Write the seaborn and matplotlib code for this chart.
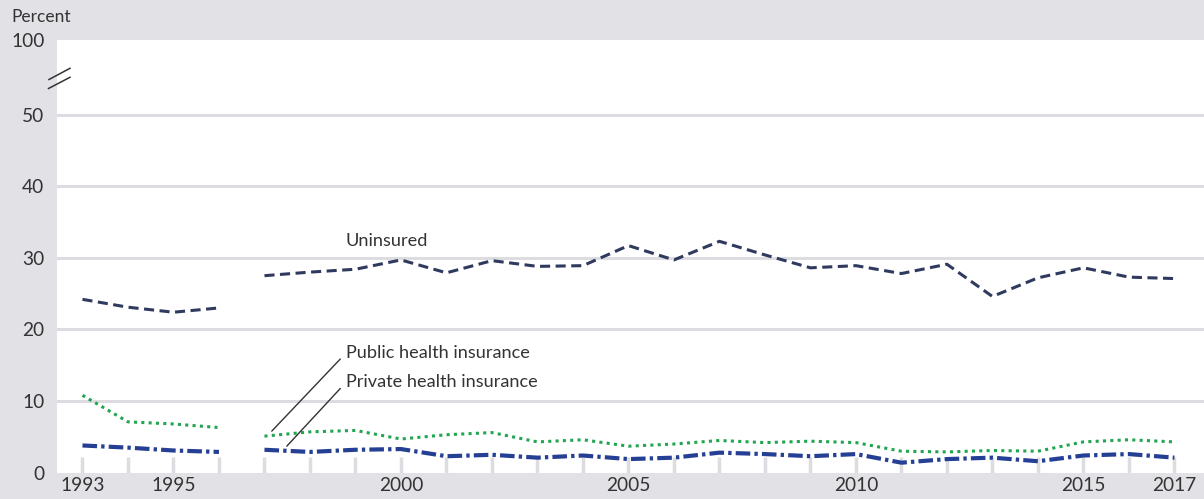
import pandas as pd
import matplotlib.pyplot as plt
import seaborn as sns
from matplotlib.lines import Line2D

# Years on the axis (break in the series between 1996 and 1997)
years = [1993, 1994, 1995, 1996, 1997, 1998, 1999, 2000, 2001, 2002, 2003, 2004,
         2005, 2006, 2007, 2008, 2009, 2010, 2011, 2012, 2013, 2014, 2015, 2016, 2017]
period = ['a', 'a', 'a', 'a'] + ['b'] * 21
labeled_years = [1993, 1995, 2000, 2005, 2010, 2015, 2017]

uninsured = [24.2, 23.1, 22.4, 23.0, 27.5, 28.0, 28.4, 29.7, 27.9, 29.6, 28.8, 28.9,
             31.7, 29.7, 32.3, 30.4, 28.6, 28.9, 27.8, 29.1, 24.6, 27.2, 28.6, 27.3, 27.1]
public = [10.8, 7.1, 6.8, 6.3, 5.1, 5.7, 5.9, 4.7, 5.3, 5.6, 4.3, 4.6,
          3.7, 4.0, 4.5, 4.2, 4.4, 4.2, 3.0, 2.9, 3.1, 3.0, 4.3, 4.6, 4.3]
private = [3.8, 3.5, 3.1, 2.9, 3.2, 2.9, 3.2, 3.3, 2.3, 2.5, 2.1, 2.4,
           1.9, 2.1, 2.8, 2.6, 2.3, 2.6, 1.4, 1.9, 2.1, 1.6, 2.4, 2.6, 2.1]

y_ticks = [0, 10, 20, 30, 40, 50]
y_top = 60.4  # top of the broken axis, labelled 100

BG = '#e1e1e6'
GRID = '#dcdce1'
TEXT = '#333333'


def main():
    df = pd.DataFrame({'year': years, 'period': period, 'Uninsured': uninsured,
                       'Public': public, 'Private': private})

    plt.rcParams['font.family'] = ['Lato', 'DejaVu Sans']
    fig = plt.figure(figsize=(12.04, 4.99), dpi=100, facecolor=BG)
    ax = fig.add_axes([57 / 1204, 26.3 / 499, 1 - 57 / 1204, (472.7 - 40) / 499])
    ax.set_facecolor('white')

    # year tick marks inside the plot, behind the lines
    ax.vlines(years, 0, 2.25, color=GRID, linewidth=2.5, zorder=0)

    # series
    sns.lineplot(data=df, x='year', y='Uninsured', units='period', estimator=None, ax=ax,
                 color='#2f3a5e', linewidth=2.2, linestyle=(0, (3.3, 1.8)))
    sns.lineplot(data=df, x='year', y='Public', units='period', estimator=None, ax=ax,
                 color='#20a550', linewidth=2.2, linestyle=(0, (1, 1.4)))
    sns.lineplot(data=df, x='year', y='Private', units='period', estimator=None, ax=ax,
                 color='#253f94', linewidth=3, linestyle=(0, (3.5, 1, 0.8, 1)))

    ax.set_xlim(1992.44, 2017.65)
    ax.set_ylim(0, y_top)
    for s in ax.spines.values():
        s.set_visible(False)

    # y axis: gridlines at 10..50, label 100 at the top of the break
    ax.set_yticks(y_ticks + [y_top])
    ax.set_yticklabels([str(v) for v in y_ticks] + ['100'])
    for v in y_ticks[1:]:
        ax.axhline(v, color=GRID, linewidth=2.2, zorder=0)
    ax.tick_params(axis='y', length=0, pad=9, labelsize=13.8, labelcolor=TEXT)

    # x axis: labels only on some years
    ax.set_xticks(labeled_years)
    ax.set_xticklabels([str(y) for y in labeled_years])
    ax.tick_params(axis='x', length=0, pad=3, labelsize=13.8, labelcolor=TEXT)
    ax.set_xlabel('')
    ax.set_ylabel('')

    # labels
    ax.text(1998.79, 32.4, 'Uninsured', ha='left', va='center', fontsize=13.1, color=TEXT)
    arrow = dict(arrowstyle='-', color=TEXT, lw=1, shrinkA=3, shrinkB=0, relpos=(0, 0.5))
    ax.annotate('Public health insurance', xy=(1997.16, 5.8), xytext=(1998.79, 16.7),
                ha='left', va='center', fontsize=13.1, color=TEXT, arrowprops=arrow)
    ax.annotate('Private health insurance', xy=(1997.49, 3.7), xytext=(1998.79, 12.6),
                ha='left', va='center', fontsize=13.1, color=TEXT, arrowprops=arrow)

    fig.text(11 / 1204, 1 - 17 / 499, 'Percent', ha='left', va='center',
             fontsize=12.5, color=TEXT)

    # axis break marks
    for (x0, y0, x1, y1) in [(49, 79.5, 70, 68.3), (48.5, 88.5, 70, 77.3)]:
        fig.add_artist(Line2D([x0 / 1204, x1 / 1204], [1 - y0 / 499, 1 - y1 / 499],
                              color=TEXT, linewidth=1.1))

    fig.savefig('out.png', dpi=100, facecolor=BG)


if __name__ == '__main__':
    main()
